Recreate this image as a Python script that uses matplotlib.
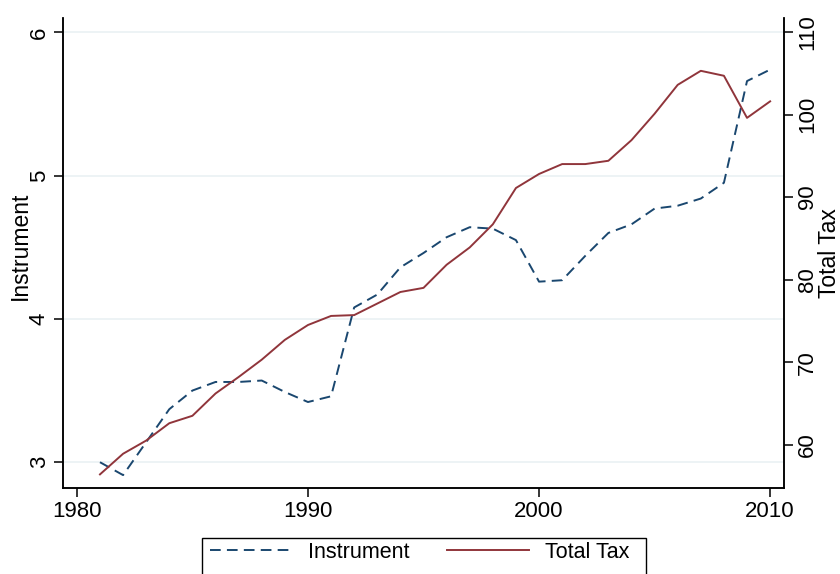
import numpy as np
import matplotlib
matplotlib.use("Agg")
import matplotlib.pyplot as plt
from matplotlib.patches import Rectangle

# data
years = list(range(1981, 2011))
instrument = [3.00, 2.91, 3.14, 3.37, 3.50, 3.56, 3.56, 3.57, 3.49, 3.42,
              3.46, 4.08, 4.17, 4.36, 4.46, 4.57, 4.64, 4.63, 4.55, 4.26,
              4.27, 4.44, 4.60, 4.66, 4.77, 4.79, 4.84, 4.95, 5.66, 5.74]
total_tax = [56.4, 58.9, 60.5, 62.6, 63.5, 66.2, 68.2, 70.3, 72.7, 74.5,
             75.6, 75.7, 77.1, 78.5, 79.0, 81.8, 83.9, 86.7, 91.1, 92.8,
             94.0, 94.0, 94.4, 96.9, 100.1, 103.6, 105.3, 104.7, 99.6, 101.6]
x_ticks = [1980, 1990, 2000, 2010]
left_ticks = [3, 4, 5, 6]
right_ticks = [60, 70, 80, 90, 100, 110]

plt.rcParams['font.family'] = ['Liberation Sans', 'DejaVu Sans']

W, H = 840, 574
fig = plt.figure(figsize=(W / 100, H / 100), dpi=100)
ax = fig.add_axes([63 / W, 1 - 488 / H, (784 - 63) / W, (488 - 18) / H])
ax2 = ax.twinx()

navy = '#1a476f'
maroon = '#90353b'

# gridlines at the left ticks only
for v in left_ticks:
    ax.axhline(v, color='#eaf1f3', lw=1.2, zorder=0)

l1, = ax.plot(years, instrument, color=navy, lw=1.4, dashes=(5.5, 3.2), label='Instrument')
l2, = ax2.plot(years, total_tax, color=maroon, lw=1.4, label='Total Tax')

ax.set_xlim(1979.4, 2010.6)
ax.set_ylim(2.82, 6.1)
ax2.set_ylim(54.75, 111.7)

ax.set_xticks(x_ticks)
ax.set_yticks(left_ticks)
ax2.set_yticks(right_ticks)

for a in (ax, ax2):
    a.spines['top'].set_visible(False)
    for s in a.spines.values():
        s.set_linewidth(1.1)
    a.tick_params(length=6.5, width=1.1, labelsize=16, pad=3)

plt.setp(ax.get_yticklabels(), rotation=90, va='center')
plt.setp(ax2.get_yticklabels(), rotation=90, va='center')

ax.set_ylabel('Instrument', fontsize=16.5)
ax2.set_ylabel('Total Tax', fontsize=16.5, rotation=90)
ax.yaxis.set_label_coords(-0.0596, 0.515)
ax2.yaxis.set_label_coords(1.0638, 0.5)
ax.yaxis.label.set_va('center')
ax2.yaxis.label.set_va('center')

# legend below the plot, box runs off the bottom edge
fig.legend(handles=[l1, l2], loc='center left', frameon=False, ncol=2,
           bbox_to_anchor=(210 / W, 1 - 552 / H), borderpad=0, borderaxespad=0,
           fontsize=15.5, handlelength=3.8, handletextpad=0.75, columnspacing=1.75)
fig.add_artist(Rectangle((202 / W, -20 / H), (646 - 202) / W, (574 + 20 - 538) / H,
                         transform=fig.transFigure, fill=False, lw=1.0, ec='black'))

fig.savefig('out.png', dpi=100)
